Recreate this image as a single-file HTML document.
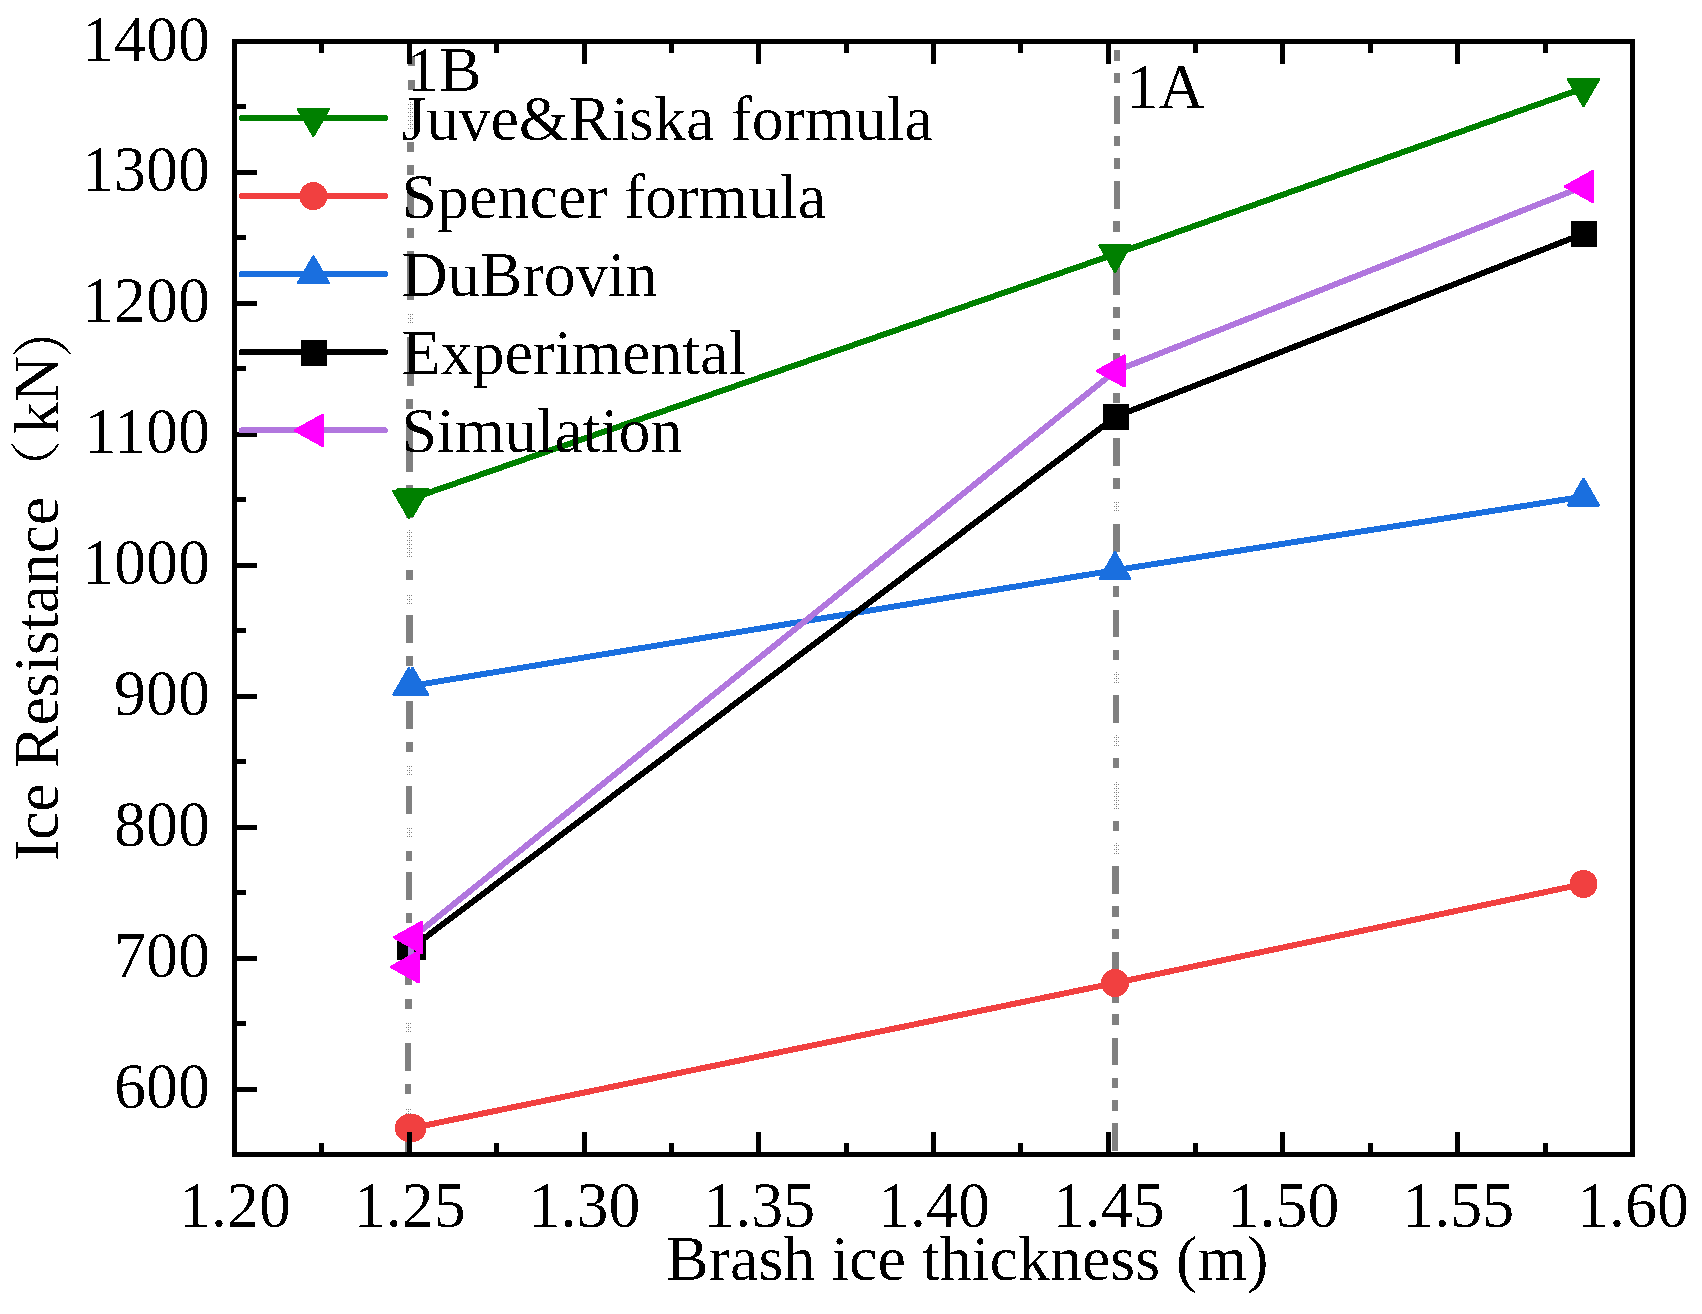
<!DOCTYPE html>
<html lang="en"><head><meta charset="utf-8"><title>Ice resistance vs brash ice thickness</title>
<style>html,body{margin:0;padding:0;background:#fff}svg{display:block}text{font-family:"Liberation Serif","Noto Serif CJK SC",serif;font-size:64px;fill:#000}</style>
</head><body>
<svg width="1702" height="1314" viewBox="0 0 1702 1314" shape-rendering="crispEdges">
<defs>
<filter id="bw" x="-5%" y="-20%" width="110%" height="140%" color-interpolation-filters="sRGB"><feComponentTransfer><feFuncA type="discrete" tableValues="0 0 0 1 1"/></feComponentTransfer></filter>
</defs>
<rect x="0" y="0" width="1702" height="1314" fill="#ffffff"/>
<g id="refline-1B">
<rect x="408" y="56" width="7" height="10" fill="#808080"/>
<rect x="408" y="80" width="7" height="10" fill="#808080"/>
<path d="M408 128h1v1h-1zM410 128h1v1h-1zM412 128h1v1h-1zM410 126h1v1h-1zM408 124h1v1h-1zM410 124h1v1h-1zM412 124h1v1h-1zM410 122h1v1h-1zM408 120h1v1h-1zM410 120h1v1h-1zM412 120h1v1h-1zM410 118h1v1h-1zM408 116h1v1h-1zM410 116h1v1h-1zM412 116h1v1h-1zM410 114h1v1h-1zM408 112h1v1h-1zM410 112h1v1h-1zM412 112h1v1h-1zM410 110h1v1h-1zM408 108h1v1h-1zM410 108h1v1h-1zM412 108h1v1h-1zM410 106h1v1h-1zM408 104h1v1h-1zM410 104h1v1h-1zM412 104h1v1h-1zM410 102h1v1h-1z" fill="#808080"/>
<rect x="407" y="142" width="7" height="10" fill="#808080"/>
<rect x="407" y="165" width="7" height="10" fill="#808080"/>
<rect x="407" y="187" width="7" height="28" fill="#808080"/>
<rect x="407" y="228" width="7" height="10" fill="#808080"/>
<rect x="407" y="251" width="7" height="10" fill="#808080"/>
<rect x="407" y="272" width="7" height="28" fill="#808080"/>
<path d="M408 322h1v1h-1zM410 322h1v1h-1zM412 322h1v1h-1zM410 320h1v1h-1zM408 318h1v1h-1zM410 318h1v1h-1zM412 318h1v1h-1zM410 316h1v1h-1zM408 314h1v1h-1zM410 314h1v1h-1zM412 314h1v1h-1z" fill="#808080"/>
<rect x="407" y="337" width="7" height="10" fill="#808080"/>
<rect x="407" y="358" width="7" height="28" fill="#808080"/>
<rect x="406" y="399" width="7" height="10" fill="#808080"/>
<rect x="406" y="422" width="7" height="10" fill="#808080"/>
<rect x="406" y="444" width="7" height="28" fill="#808080"/>
<rect x="406" y="485" width="7" height="10" fill="#808080"/>
<rect x="406" y="508" width="7" height="10" fill="#808080"/>
<path d="M407 556h1v1h-1zM409 556h1v1h-1zM411 556h1v1h-1zM409 554h1v1h-1zM407 552h1v1h-1zM409 552h1v1h-1zM411 552h1v1h-1zM409 550h1v1h-1zM407 548h1v1h-1zM409 548h1v1h-1zM411 548h1v1h-1zM409 546h1v1h-1zM407 544h1v1h-1zM409 544h1v1h-1zM411 544h1v1h-1zM409 542h1v1h-1zM407 540h1v1h-1zM409 540h1v1h-1zM411 540h1v1h-1zM409 538h1v1h-1zM407 536h1v1h-1zM409 536h1v1h-1zM411 536h1v1h-1zM409 534h1v1h-1zM407 532h1v1h-1zM409 532h1v1h-1zM411 532h1v1h-1zM409 530h1v1h-1z" fill="#808080"/>
<rect x="406" y="570" width="7" height="10" fill="#808080"/>
<path d="M407 603h1v1h-1zM409 603h1v1h-1zM411 603h1v1h-1zM409 601h1v1h-1zM407 599h1v1h-1zM409 599h1v1h-1zM411 599h1v1h-1zM409 597h1v1h-1zM407 595h1v1h-1zM409 595h1v1h-1zM411 595h1v1h-1z" fill="#808080"/>
<rect x="406" y="615" width="7" height="28" fill="#808080"/>
<rect x="406" y="656" width="7" height="10" fill="#808080"/>
<rect x="406" y="679" width="7" height="10" fill="#808080"/>
<rect x="406" y="701" width="7" height="28" fill="#808080"/>
<rect x="406" y="742" width="7" height="10" fill="#808080"/>
<path d="M407 774h1v1h-1zM409 774h1v1h-1zM411 774h1v1h-1zM409 772h1v1h-1zM407 770h1v1h-1zM409 770h1v1h-1zM411 770h1v1h-1zM409 768h1v1h-1zM407 766h1v1h-1zM409 766h1v1h-1zM411 766h1v1h-1z" fill="#808080"/>
<rect x="406" y="786" width="6" height="28" fill="#808080"/>
<path d="M407 836h1v1h-1zM409 836h1v1h-1zM411 836h1v1h-1zM409 834h1v1h-1zM407 832h1v1h-1zM409 832h1v1h-1zM411 832h1v1h-1zM409 830h1v1h-1zM407 828h1v1h-1zM409 828h1v1h-1zM411 828h1v1h-1z" fill="#808080"/>
<rect x="406" y="851" width="6" height="10" fill="#808080"/>
<rect x="406" y="872" width="6" height="28" fill="#808080"/>
<rect x="406" y="913" width="6" height="10" fill="#808080"/>
<rect x="405" y="936" width="7" height="10" fill="#808080"/>
<rect x="405" y="958" width="7" height="27" fill="#808080"/>
<rect x="405" y="999" width="7" height="10" fill="#808080"/>
<path d="M406 1031h1v1h-1zM408 1031h1v1h-1zM410 1031h1v1h-1zM408 1029h1v1h-1zM406 1027h1v1h-1zM408 1027h1v1h-1zM410 1027h1v1h-1zM408 1025h1v1h-1zM406 1023h1v1h-1zM408 1023h1v1h-1zM410 1023h1v1h-1z" fill="#808080"/>
<rect x="405" y="1043" width="6" height="28" fill="#808080"/>
<rect x="405" y="1084" width="6" height="10" fill="#808080"/>
<path d="M406 1117h1v1h-1zM408 1117h1v1h-1zM410 1117h1v1h-1zM408 1115h1v1h-1zM406 1113h1v1h-1zM408 1113h1v1h-1zM410 1113h1v1h-1zM408 1111h1v1h-1zM406 1109h1v1h-1zM408 1109h1v1h-1zM410 1109h1v1h-1z" fill="#808080"/>
<rect x="405" y="1129" width="6" height="23" fill="#808080"/>
<rect x="407" y="258" width="7" height="16" fill="#808080"/>
<rect x="407" y="344" width="7" height="15" fill="#808080"/>
<rect x="406" y="430" width="7" height="15" fill="#808080"/>
</g>
<g id="refline-1A">
<rect x="1114" y="50" width="6" height="11" fill="#808080"/>
<rect x="1114" y="73" width="6" height="10" fill="#808080"/>
<rect x="1114" y="96" width="6" height="28" fill="#808080"/>
<rect x="1114" y="136" width="6" height="10" fill="#808080"/>
<rect x="1114" y="158" width="6" height="11" fill="#808080"/>
<rect x="1114" y="181" width="6" height="28" fill="#808080"/>
<rect x="1113" y="221" width="7" height="11" fill="#808080"/>
<rect x="1113" y="244" width="7" height="10" fill="#808080"/>
<rect x="1113" y="267" width="7" height="28" fill="#808080"/>
<rect x="1113" y="307" width="7" height="11" fill="#808080"/>
<rect x="1113" y="329" width="7" height="11" fill="#808080"/>
<rect x="1113" y="353" width="7" height="27" fill="#808080"/>
<rect x="1113" y="393" width="7" height="10" fill="#808080"/>
<rect x="1113" y="415" width="7" height="11" fill="#808080"/>
<rect x="1113" y="438" width="7" height="28" fill="#808080"/>
<rect x="1113" y="478" width="7" height="11" fill="#808080"/>
<path d="M1114 510h1v1h-1zM1116 510h1v1h-1zM1118 510h1v1h-1zM1116 508h1v1h-1zM1114 506h1v1h-1zM1116 506h1v1h-1zM1118 506h1v1h-1zM1116 504h1v1h-1zM1114 502h1v1h-1zM1116 502h1v1h-1zM1118 502h1v1h-1z" fill="#808080"/>
<rect x="1113" y="524" width="7" height="28" fill="#808080"/>
<rect x="1113" y="564" width="6" height="10" fill="#808080"/>
<rect x="1113" y="586" width="6" height="11" fill="#808080"/>
<rect x="1113" y="610" width="6" height="27" fill="#808080"/>
<rect x="1113" y="650" width="6" height="10" fill="#808080"/>
<path d="M1114 682h1v1h-1zM1116 682h1v1h-1zM1118 682h1v1h-1zM1116 680h1v1h-1zM1114 678h1v1h-1zM1116 678h1v1h-1zM1118 678h1v1h-1zM1116 676h1v1h-1zM1114 674h1v1h-1zM1116 674h1v1h-1zM1118 674h1v1h-1zM1116 672h1v1h-1z" fill="#808080"/>
<rect x="1113" y="695" width="6" height="28" fill="#808080"/>
<path d="M1114 745h1v1h-1zM1116 745h1v1h-1zM1118 745h1v1h-1zM1116 743h1v1h-1zM1114 741h1v1h-1zM1116 741h1v1h-1zM1118 741h1v1h-1zM1116 739h1v1h-1zM1114 737h1v1h-1zM1116 737h1v1h-1zM1118 737h1v1h-1zM1116 735h1v1h-1z" fill="#808080"/>
<rect x="1113" y="758" width="6" height="10" fill="#808080"/>
<path d="M1114 808h1v1h-1zM1116 808h1v1h-1zM1118 808h1v1h-1zM1116 806h1v1h-1zM1114 804h1v1h-1zM1116 804h1v1h-1zM1118 804h1v1h-1zM1116 802h1v1h-1zM1114 800h1v1h-1zM1116 800h1v1h-1zM1118 800h1v1h-1zM1116 798h1v1h-1zM1114 796h1v1h-1zM1116 796h1v1h-1zM1118 796h1v1h-1zM1116 794h1v1h-1zM1114 792h1v1h-1zM1116 792h1v1h-1zM1118 792h1v1h-1zM1116 790h1v1h-1zM1114 788h1v1h-1zM1116 788h1v1h-1zM1118 788h1v1h-1zM1116 786h1v1h-1zM1114 784h1v1h-1zM1116 784h1v1h-1zM1118 784h1v1h-1zM1116 782h1v1h-1z" fill="#808080"/>
<rect x="1113" y="821" width="6" height="10" fill="#808080"/>
<path d="M1114 853h1v1h-1zM1116 853h1v1h-1zM1118 853h1v1h-1zM1116 851h1v1h-1zM1114 849h1v1h-1zM1116 849h1v1h-1zM1118 849h1v1h-1zM1116 847h1v1h-1zM1114 845h1v1h-1zM1116 845h1v1h-1zM1118 845h1v1h-1zM1116 843h1v1h-1z" fill="#808080"/>
<rect x="1112" y="866" width="7" height="28" fill="#808080"/>
<rect x="1112" y="906" width="7" height="11" fill="#808080"/>
<rect x="1112" y="929" width="7" height="10" fill="#808080"/>
<rect x="1112" y="952" width="7" height="28" fill="#808080"/>
<rect x="1112" y="992" width="7" height="11" fill="#808080"/>
<rect x="1112" y="1014" width="7" height="11" fill="#808080"/>
<rect x="1112" y="1038" width="6" height="27" fill="#808080"/>
<rect x="1112" y="1078" width="6" height="10" fill="#808080"/>
<rect x="1112" y="1100" width="6" height="11" fill="#808080"/>
<rect x="1112" y="1123" width="6" height="28" fill="#808080"/>
</g>
<g id="s-green">
<polyline points="408.80,500.00 412.50,498.30 1115.00,254.10 1583.50,88.20" fill="none" stroke="#008000" stroke-width="6" stroke-linejoin="round" stroke-linecap="round"/>
<polygon points="393.80,491.33 423.80,491.33 408.80,517.33" fill="#008000" stroke="#008000" stroke-width="3" stroke-linejoin="round"/>
<polygon points="397.50,489.63 427.50,489.63 412.50,515.63" fill="#008000" stroke="#008000" stroke-width="3" stroke-linejoin="round"/>
<polygon points="1100.00,245.43 1130.00,245.43 1115.00,271.43" fill="#008000" stroke="#008000" stroke-width="3" stroke-linejoin="round"/>
<polygon points="1568.50,79.53 1598.50,79.53 1583.50,105.53" fill="#008000" stroke="#008000" stroke-width="3" stroke-linejoin="round"/>
</g>
<g id="s-red">
<polyline points="408.80,1128.00 412.50,1128.00 1115.00,983.00 1583.50,884.00" fill="none" stroke="#F14040" stroke-width="6" stroke-linejoin="round" stroke-linecap="round"/>
<circle cx="408.80" cy="1128.00" r="14" fill="#F14040"/>
<circle cx="412.50" cy="1128.00" r="14" fill="#F14040"/>
<circle cx="1115.00" cy="983.00" r="14" fill="#F14040"/>
<circle cx="1583.50" cy="884.00" r="14" fill="#F14040"/>
</g>
<g id="s-blue">
<polyline points="408.80,686.00 412.50,685.70 1115.00,570.20 1583.50,496.60" fill="none" stroke="#1A6FDF" stroke-width="6" stroke-linejoin="round" stroke-linecap="round"/>
<polygon points="393.80,694.67 423.80,694.67 408.80,668.67" fill="#1A6FDF" stroke="#1A6FDF" stroke-width="3" stroke-linejoin="round"/>
<polygon points="397.50,694.37 427.50,694.37 412.50,668.37" fill="#1A6FDF" stroke="#1A6FDF" stroke-width="3" stroke-linejoin="round"/>
<polygon points="1100.00,578.87 1130.00,578.87 1115.00,552.87" fill="#1A6FDF" stroke="#1A6FDF" stroke-width="3" stroke-linejoin="round"/>
<polygon points="1568.50,505.27 1598.50,505.27 1583.50,479.27" fill="#1A6FDF" stroke="#1A6FDF" stroke-width="3" stroke-linejoin="round"/>
</g>
<g id="s-black">
<polyline points="410.10,946.80 412.90,946.80 1116.00,416.50 1584.10,233.50" fill="none" stroke="#000000" stroke-width="6" stroke-linejoin="round" stroke-linecap="round"/>
<rect x="397.10" y="933.80" width="26" height="26" fill="#000000"/>
<rect x="399.90" y="933.80" width="26" height="26" fill="#000000"/>
<rect x="1103.00" y="403.50" width="26" height="26" fill="#000000"/>
<rect x="1571.10" y="220.50" width="26" height="26" fill="#000000"/>
</g>
<g id="s-sim">
<polyline points="409.50,967.00 412.50,937.40 1115.40,371.00 1583.50,186.50" fill="none" stroke="#B177DE" stroke-width="6" stroke-linejoin="round" stroke-linecap="round"/>
<polygon points="418.50,952.00 418.50,982.00 391.50,967.00" fill="#FF00FF" stroke="#FF00FF" stroke-width="3" stroke-linejoin="round"/>
<polygon points="421.50,922.40 421.50,952.40 394.50,937.40" fill="#FF00FF" stroke="#FF00FF" stroke-width="3" stroke-linejoin="round"/>
<polygon points="1124.40,356.00 1124.40,386.00 1097.40,371.00" fill="#FF00FF" stroke="#FF00FF" stroke-width="3" stroke-linejoin="round"/>
<polygon points="1592.50,171.50 1592.50,201.50 1565.50,186.50" fill="#FF00FF" stroke="#FF00FF" stroke-width="3" stroke-linejoin="round"/>
</g>
<g id="axes" fill="#000">
<rect x="232" y="39" width="1403" height="5"/>
<rect x="232" y="1152" width="1403" height="5"/>
<rect x="232" y="39" width="5" height="1118"/>
<rect x="1630" y="39" width="5" height="1118"/>
<rect x="319" y="44" width="5" height="9"/>
<rect x="319" y="1143" width="5" height="9"/>
<rect x="407" y="44" width="5" height="20"/>
<rect x="407" y="1132" width="5" height="20"/>
<rect x="494" y="44" width="5" height="9"/>
<rect x="494" y="1143" width="5" height="9"/>
<rect x="582" y="44" width="5" height="20"/>
<rect x="582" y="1132" width="5" height="20"/>
<rect x="669" y="44" width="5" height="9"/>
<rect x="669" y="1143" width="5" height="9"/>
<rect x="756" y="44" width="5" height="20"/>
<rect x="756" y="1132" width="5" height="20"/>
<rect x="844" y="44" width="5" height="9"/>
<rect x="844" y="1143" width="5" height="9"/>
<rect x="931" y="44" width="5" height="20"/>
<rect x="931" y="1132" width="5" height="20"/>
<rect x="1018" y="44" width="5" height="9"/>
<rect x="1018" y="1143" width="5" height="9"/>
<rect x="1106" y="44" width="5" height="20"/>
<rect x="1106" y="1132" width="5" height="20"/>
<rect x="1193" y="44" width="5" height="9"/>
<rect x="1193" y="1143" width="5" height="9"/>
<rect x="1280" y="44" width="5" height="20"/>
<rect x="1280" y="1132" width="5" height="20"/>
<rect x="1368" y="44" width="5" height="9"/>
<rect x="1368" y="1143" width="5" height="9"/>
<rect x="1455" y="44" width="5" height="20"/>
<rect x="1455" y="1132" width="5" height="20"/>
<rect x="1543" y="44" width="5" height="9"/>
<rect x="1543" y="1143" width="5" height="9"/>
<rect x="237" y="1087" width="20" height="5"/>
<rect x="237" y="1021" width="9" height="5"/>
<rect x="237" y="956" width="20" height="5"/>
<rect x="237" y="890" width="9" height="5"/>
<rect x="237" y="825" width="20" height="5"/>
<rect x="237" y="759" width="9" height="5"/>
<rect x="237" y="694" width="20" height="5"/>
<rect x="237" y="628" width="9" height="5"/>
<rect x="237" y="563" width="20" height="5"/>
<rect x="237" y="497" width="9" height="5"/>
<rect x="237" y="432" width="20" height="5"/>
<rect x="237" y="366" width="9" height="5"/>
<rect x="237" y="301" width="20" height="5"/>
<rect x="237" y="235" width="9" height="5"/>
<rect x="237" y="170" width="20" height="5"/>
<rect x="237" y="104" width="9" height="5"/>
</g>
<g id="ticklabels" filter="url(#bw)">
<text transform="translate(235.0,1227) scale(1,1.035)" text-anchor="middle">1.20</text>
<text transform="translate(409.8,1227) scale(1,1.035)" text-anchor="middle">1.25</text>
<text transform="translate(584.5,1227) scale(1,1.035)" text-anchor="middle">1.30</text>
<text transform="translate(759.3,1227) scale(1,1.035)" text-anchor="middle">1.35</text>
<text transform="translate(934.0,1227) scale(1,1.035)" text-anchor="middle">1.40</text>
<text transform="translate(1108.8,1227) scale(1,1.035)" text-anchor="middle">1.45</text>
<text transform="translate(1283.5,1227) scale(1,1.035)" text-anchor="middle">1.50</text>
<text transform="translate(1458.3,1227) scale(1,1.035)" text-anchor="middle">1.55</text>
<text transform="translate(1633.0,1227) scale(1,1.035)" text-anchor="middle">1.60</text>
<text transform="translate(210,1108.0) scale(1,1.035)" text-anchor="end">600</text>
<text transform="translate(210,977.1) scale(1,1.035)" text-anchor="end">700</text>
<text transform="translate(210,846.1) scale(1,1.035)" text-anchor="end">800</text>
<text transform="translate(210,715.2) scale(1,1.035)" text-anchor="end">900</text>
<text transform="translate(210,584.3) scale(1,1.035)" text-anchor="end">1000</text>
<text transform="translate(210,453.3) scale(1,1.035)" text-anchor="end">1100</text>
<text transform="translate(210,322.4) scale(1,1.035)" text-anchor="end">1200</text>
<text transform="translate(210,191.4) scale(1,1.035)" text-anchor="end">1300</text>
<text transform="translate(210,60.5) scale(1,1.035)" text-anchor="end">1400</text>
</g>
<g id="titles" filter="url(#bw)">
<text x="666" y="1280">Brash ice thickness (m)</text>
<text transform="translate(58.3,861) rotate(-90)" x="0" y="0" letter-spacing="-0.28">Ice Resistance</text>
<text transform="translate(54.5,499.5) rotate(-90) scale(0.94,0.80)" x="0" y="0">（</text>
<text transform="translate(58.3,434) rotate(-90)" x="0" y="0">kN</text>
<text transform="translate(65.8,358.6) rotate(-90) scale(0.94,0.97)" x="0" y="0">）</text>
</g>
<g id="legend">
<line x1="241.5" y1="118.0" x2="385" y2="118.0" stroke="#008000" stroke-width="6" stroke-linecap="round"/>
<polygon points="298.40,109.33 328.40,109.33 313.40,135.33" fill="#008000" stroke="#008000" stroke-width="3" stroke-linejoin="round"/>
<line x1="241.5" y1="196.1" x2="385" y2="196.1" stroke="#F14040" stroke-width="6" stroke-linecap="round"/>
<circle cx="313.40" cy="196.10" r="14" fill="#F14040"/>
<line x1="241.5" y1="274.2" x2="385" y2="274.2" stroke="#1A6FDF" stroke-width="6" stroke-linecap="round"/>
<polygon points="298.40,282.87 328.40,282.87 313.40,256.87" fill="#1A6FDF" stroke="#1A6FDF" stroke-width="3" stroke-linejoin="round"/>
<line x1="241.5" y1="352.3" x2="385" y2="352.3" stroke="#000000" stroke-width="6" stroke-linecap="round"/>
<rect x="301.30" y="340.30" width="26" height="26" fill="#000000"/>
<line x1="241.5" y1="430.4" x2="385" y2="430.4" stroke="#B177DE" stroke-width="6" stroke-linecap="round"/>
<polygon points="322.40,415.40 322.40,445.40 295.40,430.40" fill="#FF00FF" stroke="#FF00FF" stroke-width="3" stroke-linejoin="round"/>
<g filter="url(#bw)">
<text x="401.5" y="140.0">Juve&amp;Riska formula</text>
<text x="401.5" y="218.1">Spencer formula</text>
<text x="401.5" y="296.2">DuBrovin</text>
<text x="401.5" y="374.3">Experimental</text>
<text x="401.5" y="452.4">Simulation</text>
<text x="407" y="90.8">1B</text>
<text x="1126.5" y="107.7">1A</text>
</g>
</g>
</svg>
</body></html>
